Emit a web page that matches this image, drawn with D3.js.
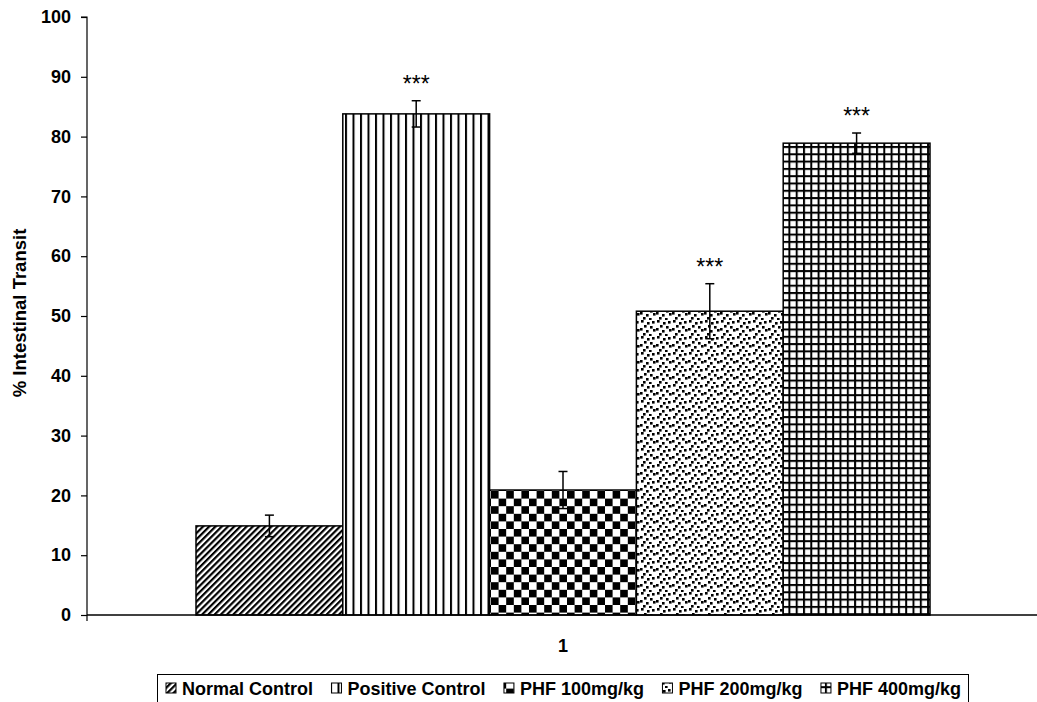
<!DOCTYPE html>
<html>
<head>
<meta charset="utf-8">
<script src="https://cdn.jsdelivr.net/npm/d3@7"></script>
<style>
  body { margin: 0; background: #fff; }
  text { font-family: Arial, "Liberation Sans", sans-serif; font-weight: bold; }
</style>
</head>
<body>
<svg id="chart" width="1037" height="702"></svg>
<script>
// data
let groups = ['Normal Control', 'Positive Control', 'PHF 100mg/kg', 'PHF 200mg/kg', 'PHF 400mg/kg'];
let means = [14.9, 83.8, 20.9, 50.8, 78.9];
let errors = [1.8, 2.2, 3.1, 4.6, 1.7];
let stars = ['', '***', '', '***', '***'];
let patternIds = ['diag', 'vert', 'check', 'dots', 'grid'];
let yTicks = [0, 10, 20, 30, 40, 50, 60, 70, 80, 90, 100];
let categoryLabel = '1';

let svg = d3.select('#chart');
let defs = svg.append('defs');

// fill patterns
let p = defs.append('pattern').attr('id', 'diag').attr('patternUnits', 'userSpaceOnUse')
  .attr('width', 4.4).attr('height', 4.4).attr('patternTransform', 'rotate(45)');
p.append('rect').attr('width', 4.4).attr('height', 4.4).attr('fill', '#fff');
p.append('rect').attr('width', 2.2).attr('height', 4.4).attr('fill', '#000');

p = defs.append('pattern').attr('id', 'vert').attr('patternUnits', 'userSpaceOnUse')
  .attr('width', 7.5).attr('height', 8);
p.append('rect').attr('width', 7.5).attr('height', 8).attr('fill', '#fff');
p.append('rect').attr('x', 0).attr('width', 2).attr('height', 8).attr('fill', '#000');

p = defs.append('pattern').attr('id', 'check').attr('patternUnits', 'userSpaceOnUse')
  .attr('width', 15.2).attr('height', 15.2).attr('x', 491).attr('y', 491);
p.append('rect').attr('width', 15.2).attr('height', 15.2).attr('fill', '#fff');
p.append('rect').attr('width', 7.6).attr('height', 7.6).attr('fill', '#000');
p.append('rect').attr('x', 7.6).attr('y', 7.6).attr('width', 7.6).attr('height', 7.6).attr('fill', '#000');

p = defs.append('pattern').attr('id', 'dots').attr('patternUnits', 'userSpaceOnUse')
  .attr('width', 16).attr('height', 16);
p.append('rect').attr('width', 16).attr('height', 16).attr('fill', '#fff');
[[1, 0], [7, 2], [12, 1], [4, 5], [10, 6], [0, 8], [6, 10], [13, 9], [3, 13], [9, 14]].forEach(function(d) {
  p.append('rect').attr('x', d[0]).attr('y', d[1]).attr('width', 2.6).attr('height', 2.6).attr('fill', '#000');
});

p = defs.append('pattern').attr('id', 'grid').attr('patternUnits', 'userSpaceOnUse')
  .attr('width', 7.3).attr('height', 7.3);
p.append('rect').attr('width', 7.3).attr('height', 7.3).attr('fill', '#fff');
p.append('rect').attr('width', 2).attr('height', 7.3).attr('fill', '#000');
p.append('rect').attr('width', 7.3).attr('height', 2).attr('fill', '#000');

// scales
let y = d3.scaleLinear().domain([0, 100]).range([615, 17]);
let x = d3.scaleBand().domain(groups).range([196, 930]);

// bars
svg.selectAll('.bar')
  .data(groups)
  .enter()
  .append('rect')
  .attr('class', 'bar')
  .attr('x', d => x(d))
  .attr('y', (d, i) => y(means[i]))
  .attr('width', x.bandwidth())
  .attr('height', (d, i) => y(0) - y(means[i]))
  .attr('fill', (d, i) => 'url(#' + patternIds[i] + ')')
  .attr('stroke', '#000')
  .attr('stroke-width', 1.5);

// error bars
let eb = svg.selectAll('.err')
  .data(groups)
  .enter()
  .append('g')
  .attr('class', 'err')
  .attr('stroke', '#000')
  .attr('stroke-width', 1.5);
eb.append('line')
  .attr('x1', d => x(d) + x.bandwidth() / 2)
  .attr('x2', d => x(d) + x.bandwidth() / 2)
  .attr('y1', (d, i) => y(means[i] - errors[i]))
  .attr('y2', (d, i) => y(means[i] + errors[i]));
eb.append('line')
  .attr('x1', d => x(d) + x.bandwidth() / 2 - 4.5)
  .attr('x2', d => x(d) + x.bandwidth() / 2 + 4.5)
  .attr('y1', (d, i) => y(means[i] + errors[i]))
  .attr('y2', (d, i) => y(means[i] + errors[i]));
eb.append('line')
  .attr('x1', d => x(d) + x.bandwidth() / 2 - 4.5)
  .attr('x2', d => x(d) + x.bandwidth() / 2 + 4.5)
  .attr('y1', (d, i) => y(means[i] - errors[i]))
  .attr('y2', (d, i) => y(means[i] - errors[i]));

// significance stars
svg.selectAll('.star')
  .data(groups)
  .enter()
  .append('text')
  .attr('x', d => x(d) + x.bandwidth() / 2)
  .attr('y', (d, i) => y(means[i] + errors[i]) - 9)
  .attr('text-anchor', 'middle')
  .style('font-weight', 'normal')
  .style('font-size', '23px')
  .text((d, i) => stars[i]);

// y axis
let yAxis = svg.append('g')
  .attr('transform', 'translate(87,0)')
  .call(d3.axisLeft(y).tickValues(yTicks).tickSize(6).tickPadding(10));
yAxis.select('.domain').attr('d', 'M-6,17H0V621').attr('stroke-width', 1.2);
yAxis.selectAll('.tick line').attr('stroke-width', 1.2);
yAxis.selectAll('.tick text').style('font-size', '18px').attr('fill', '#000');

// x axis baseline
svg.append('line')
  .attr('x1', 87).attr('x2', 1037)
  .attr('y1', y(0)).attr('y2', y(0))
  .attr('stroke', '#000').attr('stroke-width', 1.5);

svg.append('text')
  .attr('x', 563).attr('y', 652)
  .attr('text-anchor', 'middle')
  .style('font-size', '18px')
  .text(categoryLabel);

svg.append('text')
  .attr('transform', 'translate(26,313) rotate(-90)')
  .attr('text-anchor', 'middle')
  .style('font-size', '18.5px')
  .text('% Intestinal Transit');

// legend
let legend = svg.append('g');
legend.append('rect')
  .attr('x', 157.5).attr('y', 674.5)
  .attr('width', 811).attr('height', 40)
  .attr('fill', '#fff').attr('stroke', '#000').attr('stroke-width', 1);

let items = groups.map(function(g, i) {
  let icon = legend.append('rect')
    .attr('y', 683)
    .attr('width', 10).attr('height', 10)
    .attr('fill', 'url(#' + patternIds[i] + ')')
    .attr('stroke', '#000').attr('stroke-width', 1);
  let t = legend.append('text')
    .attr('y', 695)
    .style('font-size', '18px')
    .text(g);
  return {icon: icon, text: t, w: t.node().getComputedTextLength()};
});
// spread items between the left and right of the legend box
let legendStart = 166, legendEnd = 961;
let used = d3.sum(items, d => d.w + 16);
let gap = (legendEnd - legendStart - used) / (items.length - 1);
let lx = legendStart;
items.forEach(function(d) {
  d.icon.attr('x', lx);
  d.text.attr('x', lx + 16);
  lx += 16 + d.w + gap;
});
</script>
</body>
</html>
